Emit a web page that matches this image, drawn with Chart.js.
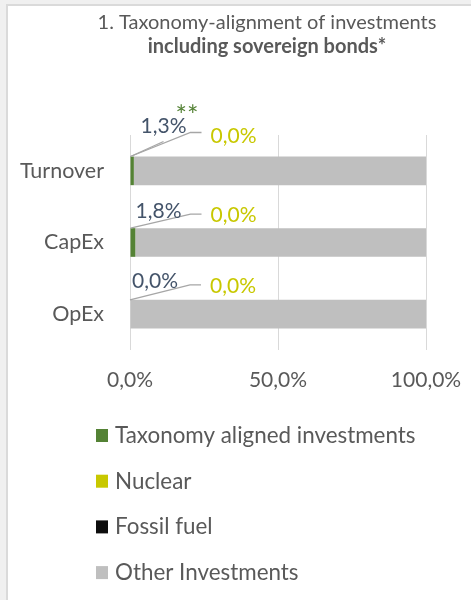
<!DOCTYPE html>
<html><head><meta charset="utf-8">
<script src="https://cdn.jsdelivr.net/npm/chart.js@4.4.1/dist/chart.umd.min.js"></script>
<style>
html,body{margin:0;padding:0;background:#f0f0f0;width:471px;height:600px;overflow:hidden;}
#frame{position:absolute;left:6px;top:4px;width:600px;height:700px;background:#fff;border-left:2px solid #dadada;border-top:2px solid #dadada;}
#c{position:absolute;left:0;top:0;}
</style></head><body>
<div id="frame"></div>
<canvas id="c" width="471" height="600"></canvas>
<script>
// ---- data ----
const categories = ['Turnover', 'CapEx', 'OpEx'];
const seriesNames = ['Taxonomy aligned investments', 'Nuclear', 'Fossil fuel', 'Other Investments'];
const taxonomyAligned = [1.3, 1.8, 0.0];
const nuclear = [0.0, 0.0, 0.0];
const fossilFuel = [0.0, 0.0, 0.0];
const otherInvestments = [98.7, 98.2, 100.0];
const xTickValues = [0, 50, 100];
const titleLines = ['1. Taxonomy-alignment of investments', 'including sovereign bonds*'];
const footnoteMark = '**';

// ---- styles ----
const seriesColors = ['#548235', '#c8c800', '#0d0d0d', '#bfbfbf'];
const TEXT = '#595959';
const NAVY = '#44546a';
const FONT = 'Lato';
const fmt = v => v.toFixed(1).replace('.', ',') + '%';

// label layout per category (offsets from bar's top-left corner)
const labelLayout = [
  { navy: [10, -24], navyLeader: [33, -15], yellow: [80, -14], elbow: -24, mark: [45, -32] },
  { navy: [5, -10], yellow: [80, -6], elbow: -14 },
  { navy: [2, -12], yellow: [80, -7], elbow: -15 }
];

const overlay = {
  id: 'overlay',
  afterDatasetsDraw(chart) {
    const ctx = chart.ctx;
    const m0 = chart.getDatasetMeta(0);
    ctx.save();
    categories.forEach((c, i) => {
      const b = m0.data[i].getProps(['x', 'y', 'base', 'height'], true);
      const ax = b.base, ay = b.y - b.height / 2;
      const L = labelLayout[i];
      ctx.strokeStyle = '#a6a6a6';
      ctx.lineWidth = 1.3;
      ctx.beginPath();
      ctx.moveTo(ax, ay);
      ctx.lineTo(ax + 60, ay + L.elbow);
      ctx.lineTo(ax + 71, ay + L.elbow);
      ctx.stroke();
      if (L.navyLeader) {
        ctx.beginPath();
        ctx.moveTo(ax, ay);
        ctx.lineTo(ax + L.navyLeader[0], ay + L.navyLeader[1]);
        ctx.stroke();
      }
      ctx.font = '21px ' + FONT;
      ctx.textAlign = 'left';
      ctx.textBaseline = 'alphabetic';
      ctx.fillStyle = NAVY;
      ctx.fillText(fmt(taxonomyAligned[i]), ax + L.navy[0], ay + L.navy[1]);
      ctx.fillStyle = seriesColors[1];
      ctx.fillText(fmt(nuclear[i]), ax + L.yellow[0], ay + L.yellow[1]);
      if (L.mark) {
        ctx.fillStyle = seriesColors[0];
        ctx.font = '27px ' + FONT;
        ctx.fillText(footnoteMark, ax + L.mark[0], ay + L.mark[1]);
      }
    });
    ctx.restore();
  },
  afterDraw(chart) {
    const ctx = chart.ctx;
    ctx.save();
    ctx.fillStyle = TEXT;
    ctx.textAlign = 'center';
    ctx.textBaseline = 'alphabetic';
    ctx.font = '20px ' + FONT;
    ctx.fillText(titleLines[0], 267, 29);
    ctx.font = 'bold 20px ' + FONT;
    ctx.fillText(titleLines[1], 267, 53);
    ctx.textAlign = 'left';
    ctx.font = '22.4px ' + FONT;
    chart.data.datasets.forEach((ds, j) => {
      const base = 443 + j * 45.7;
      ctx.fillStyle = ds.backgroundColor;
      ctx.fillRect(96, base - 14, 12, 13);
      ctx.fillStyle = TEXT;
      ctx.fillText(ds.label, 115, base);
    });
    ctx.restore();
  }
};

const seriesValues = [taxonomyAligned, nuclear, fossilFuel, otherInvestments];
new Chart(document.getElementById('c'), {
  type: 'bar',
  data: {
    labels: categories,
    datasets: seriesNames.map((n, k) => ({
      label: n, data: seriesValues[k], backgroundColor: seriesColors[k], borderWidth: 0
    }))
  },
  options: {
    indexAxis: 'y',
    responsive: false,
    animation: false,
    layout: { padding: { top: 135, right: 45, bottom: 210, left: 0 } },
    datasets: { bar: { categoryPercentage: 1, barPercentage: 0.4 } },
    plugins: { legend: { display: false }, title: { display: false }, tooltip: { enabled: false } },
    scales: {
      x: {
        stacked: true, min: 0, max: 100,
        afterBuildTicks: a => { a.ticks = xTickValues.map(v => ({ value: v })); },
        afterFit: a => { a.height = 40; a.paddingLeft = 0; a.paddingRight = 0; },
        ticks: { callback: v => fmt(v), color: TEXT, font: { family: FONT, size: 21 }, padding: 18 },
        grid: { color: '#d9d9d9', lineWidth: 1, drawTicks: false },
        border: { display: false }
      },
      y: {
        stacked: true,
        afterFit: a => { a.width = 130; a.paddingTop = 0; a.paddingBottom = 0; },
        ticks: { color: TEXT, font: { family: FONT, size: 21.5 }, padding: 26 },
        grid: { display: false, drawTicks: false },
        border: { display: false }
      }
    }
  },
  plugins: [overlay]
});
</script>
</body></html>
